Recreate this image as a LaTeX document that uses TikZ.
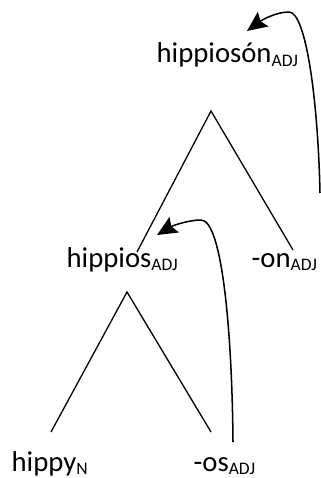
\documentclass[tikz,border=0pt]{standalone}
\usepackage{fontspec}
\setmainfont{Carlito}
\usetikzlibrary{arrows.meta}
\newcommand{\cat}[2]{#1\raisebox{-3.4pt}{\fontsize{15}{15}\selectfont #2}}

\begin{document}
\begin{tikzpicture}[x=0.03cm,y=-0.03cm,line width=1.1pt,
   word/.style={anchor=base west,inner sep=0pt,font=\fontsize{24.5}{29}\selectfont},
   move/.style={line width=1.3pt,-{Stealth[length=6mm,width=5.4mm,inset=1mm]}}]
   \useasboundingbox (0,0) rectangle (321,478);
   % words
   \node[word] (whole)  at (156, 63) {\cat{hippiosón}{ADJ}};
   \node[word] (stem)   at ( 66,267) {\cat{hippios}{ADJ}};
   \node[word] (on)     at (251,267) {\cat{-on}{ADJ}};
   \node[word] (hippy)  at ( 11,471) {\cat{hippy}{N}};
   \node[word] (os)     at (193,471) {\cat{-os}{ADJ}};
   % branch points
   \coordinate (topA)  at (211,111);
   \coordinate (topL)  at (137,252);
   \coordinate (topR)  at (293,250);
   \coordinate (lowA)  at (127,292);
   \coordinate (lowL)  at ( 51,432);
   \coordinate (lowR)  at (211,432);
   \draw (topL) -- (topA) -- (topR);
   \draw (lowL) -- (lowA) -- (lowR);
   % movement arrows
   \coordinate (onTail) at (320,193);
   \coordinate (onHead) at (247, 31);
   \coordinate (osTail) at (233,442);
   \coordinate (osHead) at (157,235);
   \draw[move] (onTail) .. controls (318,100) and (306,12) .. (289,12)
                        .. controls (276,12) and (262,20) .. (onHead);
   \draw[move] (osTail) .. controls (232,330) and (222,220) .. (201,220)
                        .. controls (188,220) and (172,226) .. (osHead);
\end{tikzpicture}
\end{document}
